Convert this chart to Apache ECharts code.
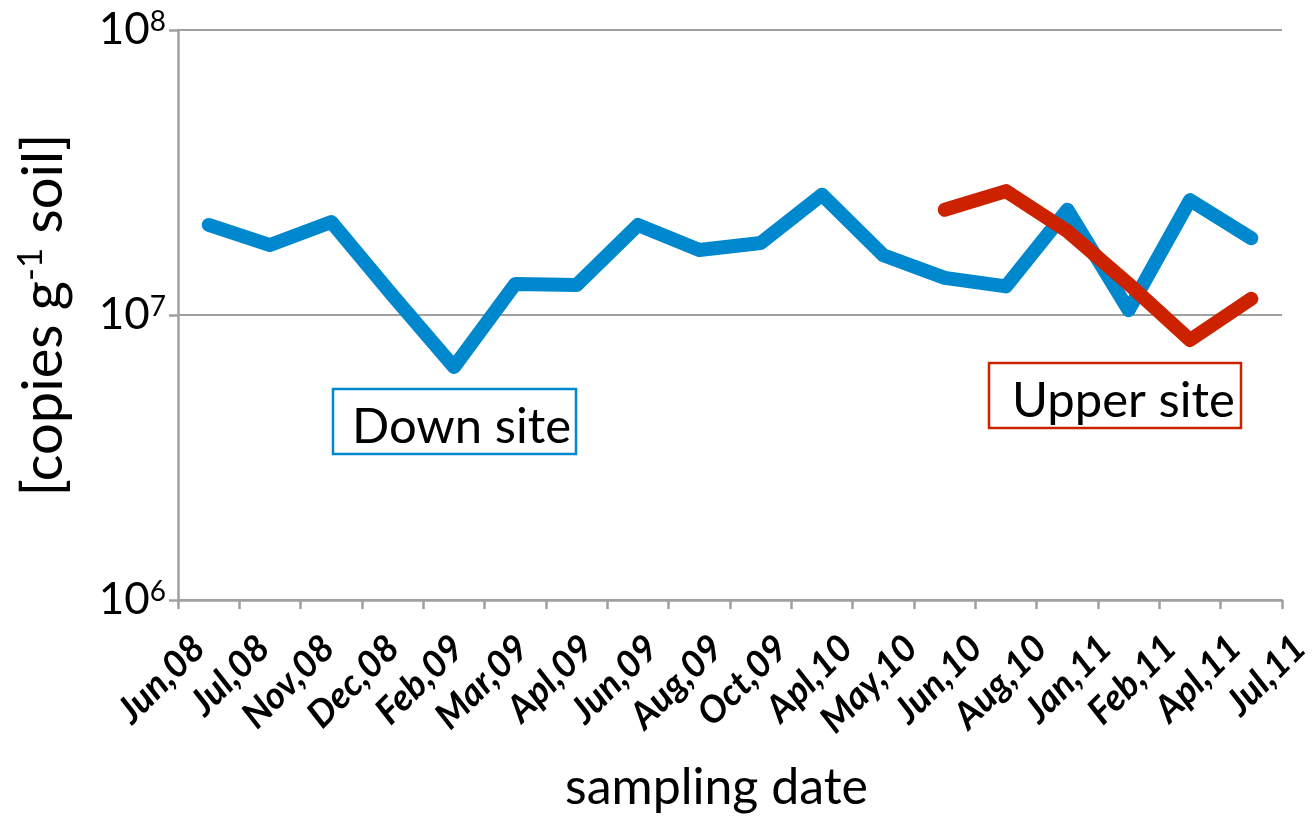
<!DOCTYPE html>
<html>
<head>
<meta charset="utf-8">
<script src="https://cdn.jsdelivr.net/npm/echarts@6/dist/echarts.min.js"></script>
<style>
  html, body { margin: 0; padding: 0; background: #ffffff; }
  #chart { width: 1315px; height: 818px; }
</style>
</head>
<body>
<div id="chart"></div>
<script>
// Sampling dates (category axis)
const samplingDates = ['Jun,08', 'Jul,08', 'Nov,08', 'Dec,08', 'Feb,09', 'Mar,09', 'Apl,09', 'Jun,09',
  'Aug,09', 'Oct,09', 'Apl,10', 'May,10', 'Jun,10', 'Aug,10', 'Jan,11', 'Feb,11', 'Apl,11', 'Jul,11'];

// Gene copies per gram of soil
const downSite = [2.07e7, 1.76e7, 2.12e7, 1.17e7, 6.57e6, 1.285e7, 1.274e7, 2.07e7,
  1.69e7, 1.79e7, 2.64e7, 1.62e7, 1.35e7, 1.26e7, 2.34e7, 1.04e7, 2.53e7, 1.86e7];
const upperSite = [null, null, null, null, null, null, null, null, null, null, null, null,
  2.34e7, 2.72e7, 1.97e7, 1.285e7, 8.17e6, 1.14e7];

// Decade ticks of the logarithmic value axis
const yTicks = [1e6, 1e7, 1e8];

const FONT = 'Lato, "Open Sans", "DejaVu Sans", sans-serif';
const GRAY = '#A0A0A0';
const BLUE = '#0088CE';
const RED = '#CC2200';

const chart = echarts.init(document.getElementById('chart'), null, { renderer: 'canvas' });

const option = {
  backgroundColor: '#ffffff',
  animation: false,
  grid: [
    { left: 178, top: 30, width: 1104, height: 570, containLabel: false },
    // label track for the rotated date labels
    { left: 199, top: 30, width: 1105, height: 570, containLabel: false }
  ],
  xAxis: [
    {
      type: 'category',
      gridIndex: 0,
      data: samplingDates,
      boundaryGap: true,
      axisLine: { show: true, lineStyle: { color: GRAY, width: 2.5 } },
      axisTick: { show: true, length: 9, lineStyle: { color: GRAY, width: 2.5 } },
      axisLabel: { show: false },
      splitLine: { show: false }
    },
    {
      type: 'category',
      gridIndex: 1,
      data: samplingDates,
      boundaryGap: false,
      axisLine: { show: false },
      axisTick: { show: false },
      splitLine: { show: false },
      axisLabel: {
        show: true,
        interval: 0,
        rotate: 45,
        margin: 42,
        color: '#000000',
        fontFamily: FONT,
        fontStyle: 'italic',
        fontWeight: 'bold',
        fontSize: 37
      }
    }
  ],
  yAxis: [
    {
      type: 'log',
      gridIndex: 0,
      logBase: 10,
      min: yTicks[0],
      max: yTicks[yTicks.length - 1],
      splitNumber: yTicks.length - 1,
      axisLine: { show: true, lineStyle: { color: GRAY, width: 2.5 } },
      axisTick: { show: true, length: 9, lineStyle: { color: GRAY, width: 2.5 } },
      splitLine: { show: true, lineStyle: { color: GRAY, width: 2 } },
      axisLabel: {
        margin: 12,
        formatter: function (v) {
          return '{b|10}{s|' + Math.round(Math.log10(v)) + '}';
        },
        rich: {
          b: { fontFamily: FONT, fontSize: 44, color: '#000000', verticalAlign: 'bottom', lineHeight: 44 },
          s: { fontFamily: FONT, fontSize: 28, color: '#000000', verticalAlign: 'top', lineHeight: 44, padding: [0, 0, 19, 0] }
        }
      },
      name: '[copies g{sup|-1} soil]',
      nameLocation: 'middle',
      nameRotate: 90,
      nameGap: 104,
      nameTextStyle: {
        fontFamily: FONT,
        fontSize: 56,
        color: '#000000',
        rich: {
          sup: { fontFamily: FONT, fontSize: 35, color: '#000000', padding: [0, 0, 26, 0] }
        }
      }
    },
    { type: 'value', gridIndex: 1, show: false }
  ],
  graphic: [
    {
      type: 'text',
      left: 565, top: 763,
      style: { text: 'sampling date', fontFamily: FONT, fontSize: 50, fill: '#000000' }
    },
    {
      type: 'rect',
      shape: { x: 333, y: 389, width: 243, height: 65 },
      style: { fill: '#ffffff', stroke: BLUE, lineWidth: 2.5 }
    },
    {
      type: 'text',
      x: 352, y: 427,
      style: { text: 'Down site', fontFamily: FONT, fontSize: 49, fill: '#000000', textVerticalAlign: 'middle' }
    },
    {
      type: 'rect',
      shape: { x: 989, y: 363, width: 252, height: 65 },
      style: { fill: '#ffffff', stroke: RED, lineWidth: 2.5 }
    },
    {
      type: 'text',
      x: 1012, y: 401,
      style: { text: 'Upper site', fontFamily: FONT, fontSize: 49, fill: '#000000', textVerticalAlign: 'middle' }
    }
  ],
  series: [
    {
      name: 'Down site',
      type: 'line',
      xAxisIndex: 0,
      yAxisIndex: 0,
      data: downSite,
      symbol: 'none',
      lineStyle: { color: BLUE, width: 14, cap: 'round', join: 'round' },
      z: 3
    },
    {
      name: 'Upper site',
      type: 'line',
      xAxisIndex: 0,
      yAxisIndex: 0,
      data: upperSite,
      symbol: 'none',
      connectNulls: false,
      lineStyle: { color: RED, width: 14, cap: 'round', join: 'round' },
      z: 4
    }
  ]
};

chart.setOption(option);
</script>
</body>
</html>
